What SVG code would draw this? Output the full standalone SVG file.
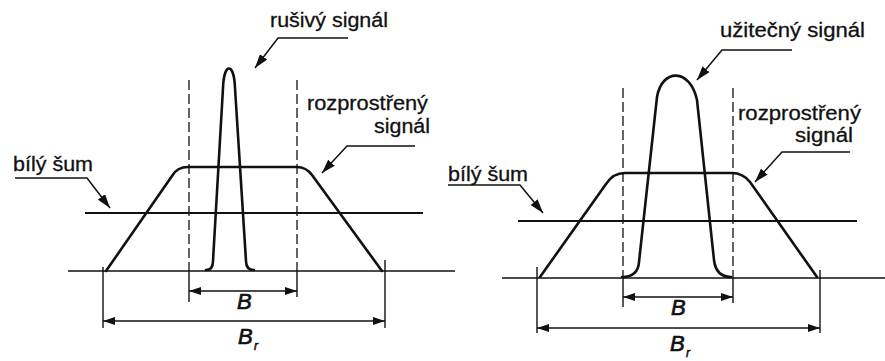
<svg xmlns="http://www.w3.org/2000/svg" width="885" height="361" viewBox="0 0 885 361">
<style>
.bg{fill:#fff}
.curve{fill:none;stroke:#111;stroke-width:2.6;stroke-linejoin:round;stroke-linecap:round}
.noise{fill:none;stroke:#111;stroke-width:2.2}
.base{fill:none;stroke:#111;stroke-width:1.6}
.dash{fill:none;stroke:#111;stroke-width:1.3;stroke-dasharray:10 4}
.ext{fill:none;stroke:#111;stroke-width:1.4}
.dim{fill:none;stroke:#111;stroke-width:1.6}
.lead{fill:none;stroke:#111;stroke-width:1.5}
.lbl{font-family:"Liberation Sans",Arial,sans-serif;font-size:20px;fill:#111;stroke:#111;stroke-width:0.3}
.sym{font-family:"Liberation Sans",Arial,sans-serif;font-size:22px;font-style:italic;fill:#111;stroke:#111;stroke-width:0.7}
.sub{font-family:"Liberation Sans",Arial,sans-serif;font-size:12px;font-style:italic;fill:#111;stroke:#111;stroke-width:0.5}
</style>
<defs>
<marker id="dimArrow" viewBox="0 0 12 8" refX="12" refY="4" markerWidth="12" markerHeight="8" markerUnits="userSpaceOnUse" orient="auto-start-reverse"><path d="M0,0 L12,4 L0,8 z" fill="#111"/></marker>
<marker id="leadArrow" viewBox="0 0 14 9" refX="14" refY="4.5" markerWidth="14" markerHeight="9" markerUnits="userSpaceOnUse" orient="auto"><path d="M0,0 L14,4.5 L0,9 z" fill="#111"/></marker>
</defs>
<rect class="bg" x="0" y="0" width="885" height="361"/>

<!-- LEFT PANEL -->
<g id="left-baseline"><path class="base" d="M68,271 L455,271"/></g>
<g id="left-noise"><path class="noise" d="M85,213 L423,213"/></g>
<g id="left-spread-signal"><path class="curve" d="M106,271 L172,176 Q177,167 188,167 L297,167 Q306,167 312,175 L382,271"/></g>
<g id="left-interference"><path class="curve" d="M206,270 Q213,270 213,261 L223,88 C224,62 234,62 235,88 L246,261 Q246,270 254,270"/></g>
<g id="left-band-lines">
<path class="dash" d="M189,80 L189,271"/><path class="ext" d="M189,271 L189,302"/>
<path class="dash" d="M297,80 L297,271"/><path class="ext" d="M297,271 L297,297"/>
<path class="ext" d="M103,267 L103,328"/><path class="ext" d="M385,260 L385,328"/>
</g>
<g id="left-label-rusivy"><text class="lbl" x="270" y="27" textLength="118" lengthAdjust="spacingAndGlyphs">rušivý signál</text></g>
<g id="left-label-rozprostreny"><text class="lbl" x="307" y="110" textLength="121" lengthAdjust="spacingAndGlyphs">rozprostřený</text><text class="lbl" x="374" y="133" textLength="56" lengthAdjust="spacingAndGlyphs">signál</text></g>
<g id="left-label-sum"><text class="lbl" x="13" y="171" textLength="80" lengthAdjust="spacingAndGlyphs">bílý šum</text></g>
<g id="left-label-B"><text class="sym" x="237" y="309">B</text></g>
<g id="left-label-Br"><text class="sym" x="238" y="344">B</text><text class="sub" x="254" y="350">r</text></g>

<!-- RIGHT PANEL -->
<g id="right-baseline"><path class="base" d="M502,278 L885,278"/></g>
<g id="right-noise"><path class="noise" d="M518,221 L857,221"/></g>
<g id="right-spread-signal"><path class="curve" d="M540,277 L606,184 Q613,173 625,173 L732,173 Q743,173 750,182 L817,277"/></g>
<g id="right-useful"><path class="curve" d="M622,277 Q638,277 639,262 L657,97 C662,68 690,68 697,100 L714,260 Q716,277 731,277"/></g>
<g id="right-band-lines">
<path class="dash" d="M623,88 L623,278"/><path class="ext" d="M623,278 L623,307"/>
<path class="dash" d="M733,88 L733,278"/><path class="ext" d="M733,278 L733,303"/>
<path class="ext" d="M537,267 L537,333"/><path class="ext" d="M820,270 L820,333"/>
</g>
<g id="right-label-uzitecny"><text class="lbl" x="720" y="37" textLength="145" lengthAdjust="spacingAndGlyphs">užitečný signál</text></g>
<g id="right-label-rozprostreny"><text class="lbl" x="738" y="120" textLength="123" lengthAdjust="spacingAndGlyphs">rozprostřený</text><text class="lbl" x="795" y="142" textLength="58" lengthAdjust="spacingAndGlyphs">signál</text></g>
<g id="right-label-sum"><text class="lbl" x="448" y="181" textLength="80" lengthAdjust="spacingAndGlyphs">bílý šum</text></g>
<g id="right-label-B"><text class="sym" x="671" y="315">B</text></g>
<g id="right-label-Br"><text class="sym" x="670" y="351">B</text><text class="sub" x="686" y="357">r</text></g>

<!-- CONNECTORS -->
<g id="connectors">
<path class="lead" d="M348,38 L278,38 L255,68" marker-end="url(#leadArrow)"/>
<path class="lead" d="M415,146 L347,146 L322,173" marker-end="url(#leadArrow)"/>
<path class="lead" d="M15,178 L87,178 L110,208" marker-end="url(#leadArrow)"/>
<path class="lead" d="M792,50 L722,50 L697,80" marker-end="url(#leadArrow)"/>
<path class="lead" d="M850,152 L782,152 L755,182" marker-end="url(#leadArrow)"/>
<path class="lead" d="M448,185 L520,185 L543,213" marker-end="url(#leadArrow)"/>
<path class="dim" d="M189,291 L297,291" marker-start="url(#dimArrow)" marker-end="url(#dimArrow)"/>
<path class="dim" d="M103,321 L385,321" marker-start="url(#dimArrow)" marker-end="url(#dimArrow)"/>
<path class="dim" d="M623,297 L733,297" marker-start="url(#dimArrow)" marker-end="url(#dimArrow)"/>
<path class="dim" d="M537,328 L820,328" marker-start="url(#dimArrow)" marker-end="url(#dimArrow)"/>
</g>
</svg>
